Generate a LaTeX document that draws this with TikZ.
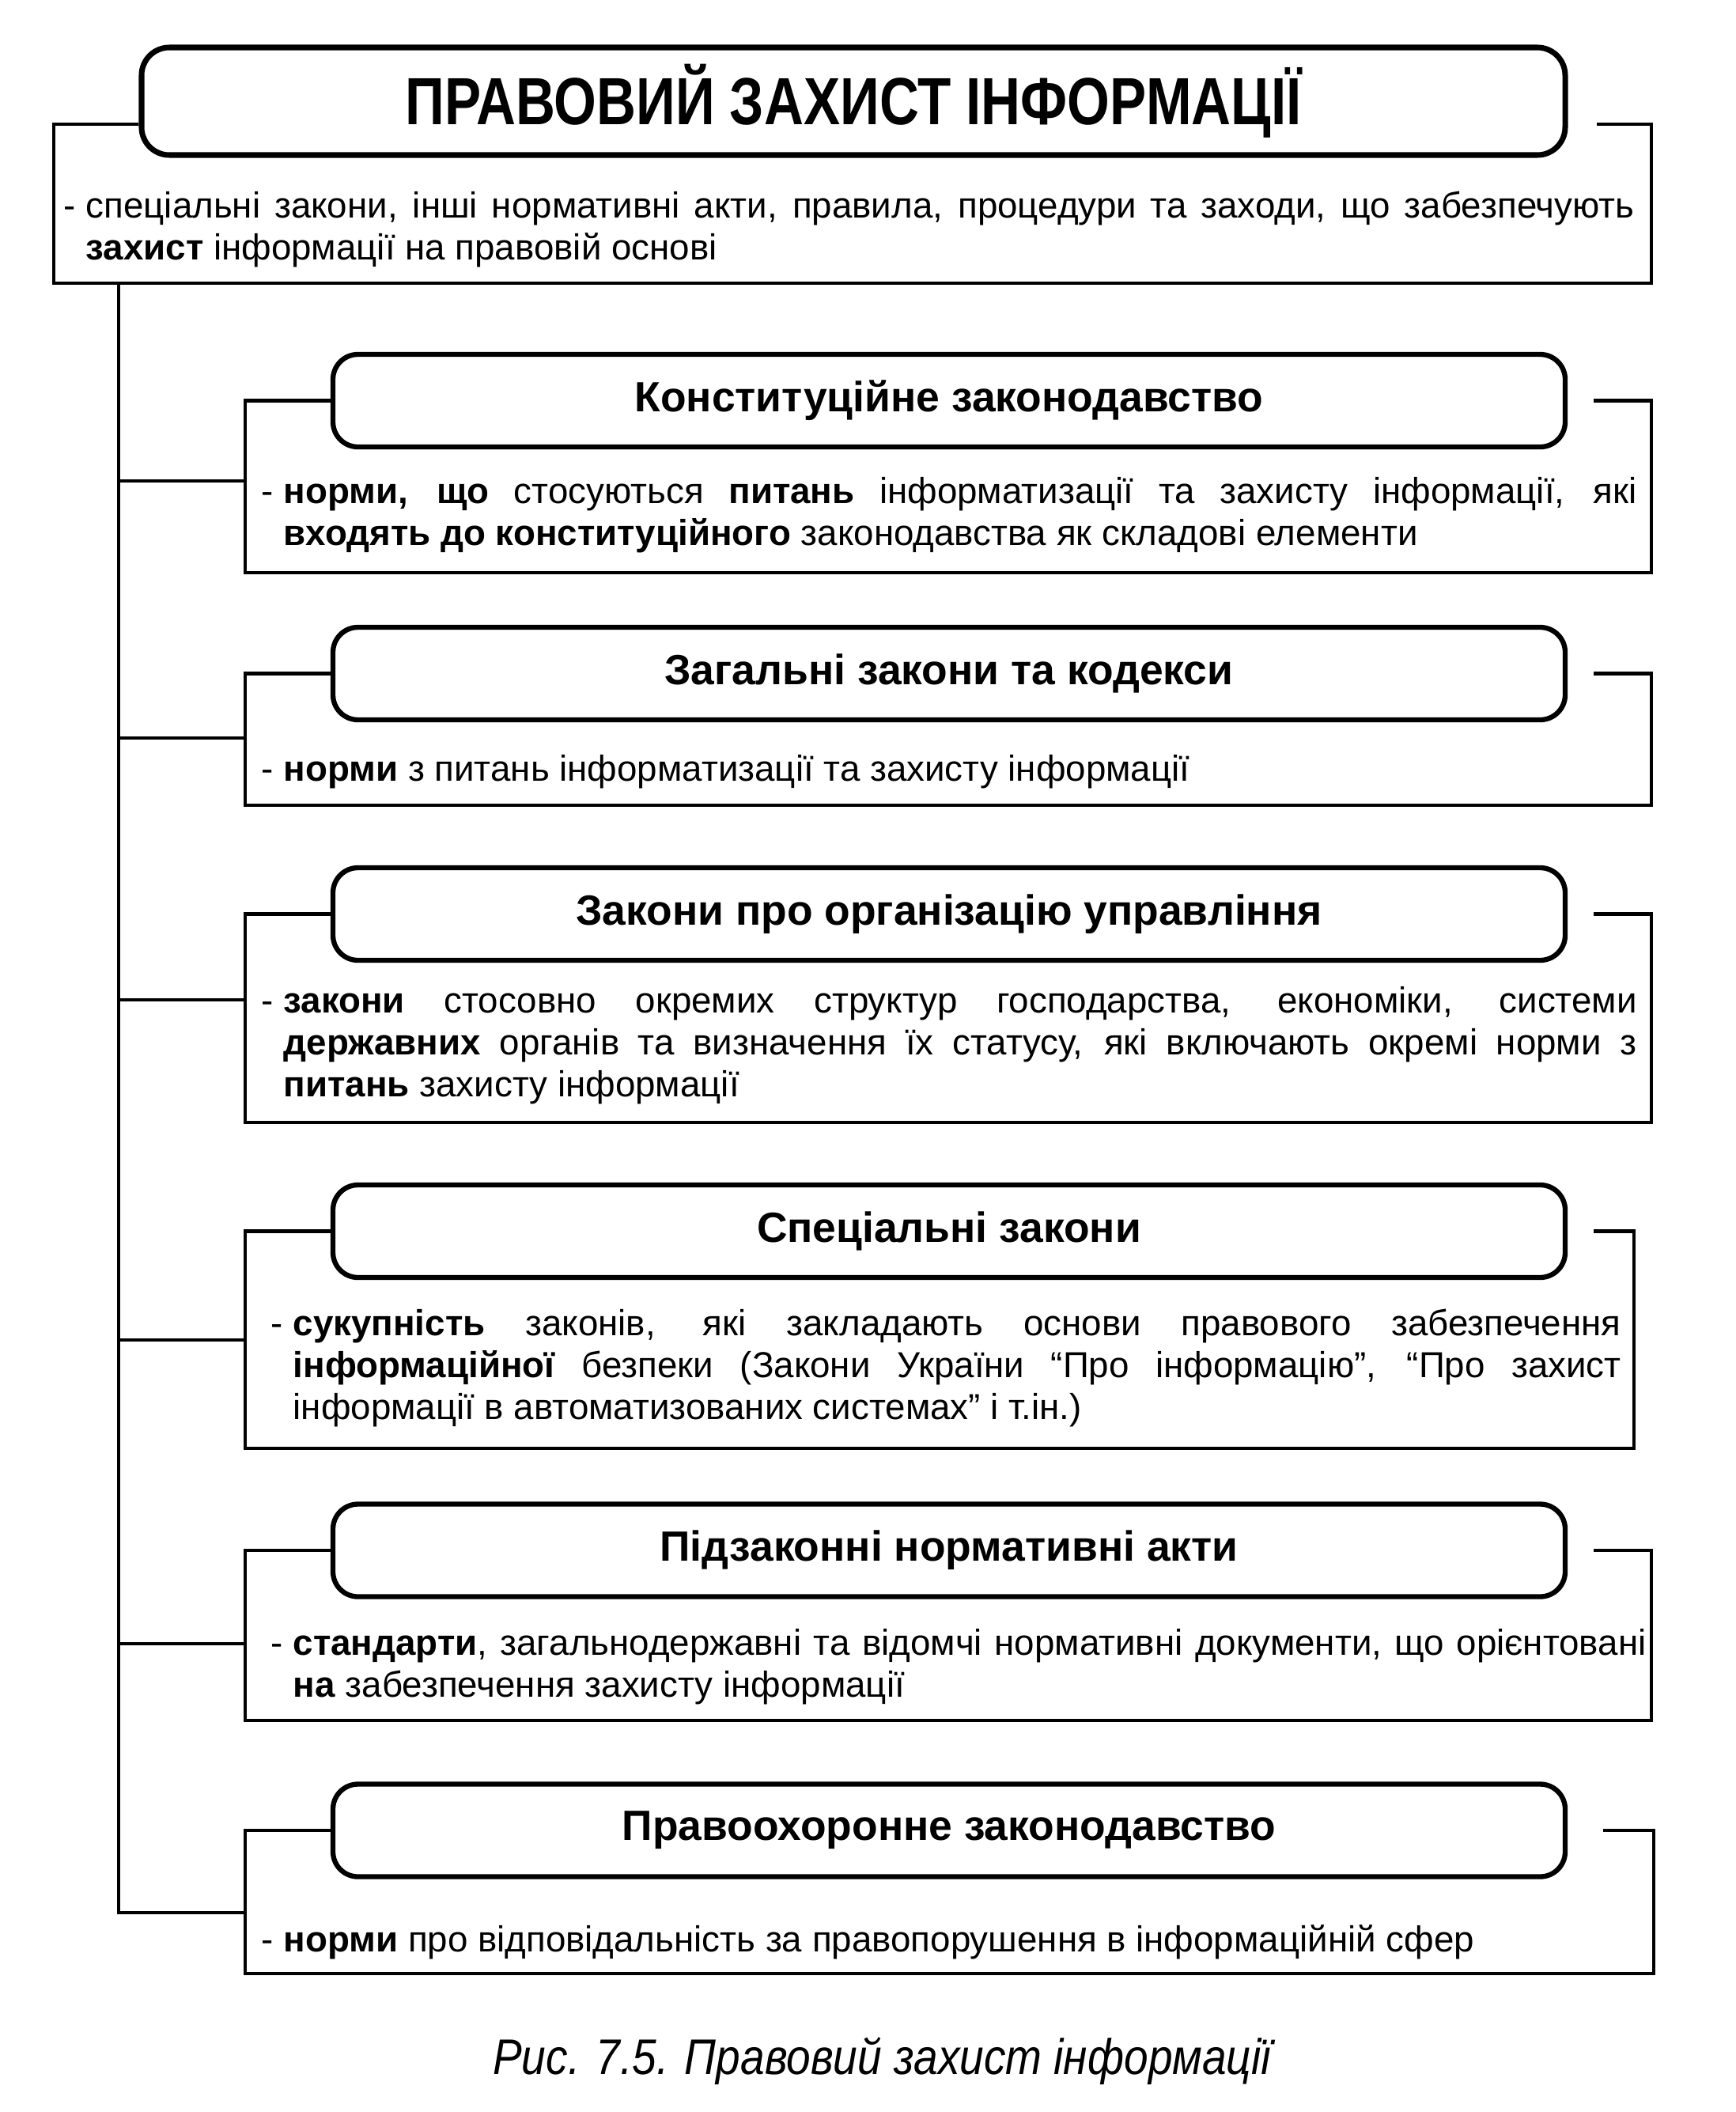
\documentclass[tikz,border=0pt]{standalone}
\usepackage{fontspec}
\setmainfont{Liberation Sans}
\newfontfamily\titlefont{Liberation Sans}[FakeStretch=0.82]
\newfontfamily\capfont{Liberation Sans}[FakeStretch=0.87]

\tikzset{
  titlebox/.style={draw, line width=2pt, rounded corners=10pt, minimum width=18cm, minimum height=1.36cm,
    font=\titlefont\fontsize{24}{28}\selectfont\bfseries},
  headbox/.style={draw, line width=1.8pt, rounded corners=9pt, minimum width=15.58cm, minimum height=1.17cm,
    font=\fontsize{15.2}{18}\selectfont\bfseries},
  desc/.style={anchor=base west, inner sep=0pt, text width=17.11cm, align=justify,
    font=\fontsize{13}{15.2}\selectfont},
  frame/.style={line width=1.4pt},
  trunk/.style={line width=1.2pt},
}

\begin{document}
\begin{tikzpicture}
  \useasboundingbox (0,0) rectangle (21.95,-26.70);

  % Заголовок
  \node[titlebox] (title) at (10.79,-1.28) {ПРАВОВИЙ ЗАХИСТ ІНФОРМАЦІЇ};
  \coordinate (m0) at (0.68,-1.57);
  \coordinate (mb) at (20.88,-3.58);
  \coordinate (mr) at (20.19,-1.57);
  \draw[frame] (title.west |- m0) -- (m0) |- (mb) |- (mr);
  \node[desc, text width=19.58cm] (t0) at (1.08,-2.75)
    {\llap{- }спеціальні закони, інші нормативні акти, правила, процедури та заходи, що забезпечують\linebreak
     \textbf{захист} інформації на правовій основі};
  \coordinate (top) at (1.50,-3.58);

  % Конституційне законодавство
  \node[headbox] (h1) at (12.00,-5.065) {Конституційне законодавство};
  \coordinate (l1) at (3.10,-6.08);
  \coordinate (b1) at (20.88,-7.24);
  \coordinate (r1) at (20.15,-5.065);
  \draw[frame] (h1.west) -| (l1) |- (b1) |- (r1);
  \draw[trunk] (l1 -| top) -- (l1);
  \node[desc] (t1) at (3.58,-6.36)
    {\llap{- }\textbf{норми, що} стосуються \textbf{питань} інформатизації та захисту інформації, які\linebreak
     \textbf{входять до конституційного} законодавства як складові елементи};

  % Загальні закони та кодекси
  \node[headbox] (h2) at (12.00,-8.515) {Загальні закони та кодекси};
  \coordinate (l2) at (3.10,-9.33);
  \coordinate (b2) at (20.88,-10.18);
  \coordinate (r2) at (20.15,-8.515);
  \draw[frame] (h2.west) -| (l2) |- (b2) |- (r2);
  \draw[trunk] (l2 -| top) -- (l2);
  \node[desc] (t2) at (3.58,-9.87)
    {\llap{- }\textbf{норми} з питань інформатизації та захисту інформації};

  % Закони про організацію управління
  \node[headbox] (h3) at (12.00,-11.555) {Закони про організацію управління};
  \coordinate (l3) at (3.10,-12.64);
  \coordinate (b3) at (20.88,-14.19);
  \coordinate (r3) at (20.15,-11.555);
  \draw[frame] (h3.west) -| (l3) |- (b3) |- (r3);
  \draw[trunk] (l3 -| top) -- (l3);
  \node[desc] (t3) at (3.58,-12.80)
    {\llap{- }\textbf{закони} стосовно окремих структур господарства, економіки, системи\linebreak
     \textbf{державних} органів та визначення їх статусу, які включають окремі норми з\linebreak
     \textbf{питань} захисту інформації};

  % Спеціальні закони
  \node[headbox] (h4) at (12.00,-15.565) {Спеціальні закони};
  \coordinate (l4) at (3.10,-16.94);
  \coordinate (b4) at (20.66,-18.31);
  \coordinate (r4) at (20.15,-15.565);
  \draw[frame] (h4.west) -| (l4) |- (b4) |- (r4);
  \draw[trunk] (l4 -| top) -- (l4);
  \node[desc, text width=16.79cm] (t4) at (3.70,-16.88)
    {\llap{- }\textbf{сукупність} законів, які закладають основи правового забезпечення\linebreak
     \textbf{інформаційної} безпеки (Закони України “Про інформацію”, “Про захист\linebreak
     інформації в автоматизованих системах” і т.ін.)};

  % Підзаконні нормативні акти
  \node[headbox] (h5) at (12.00,-19.60) {Підзаконні нормативні акти};
  \coordinate (l5) at (3.10,-20.78);
  \coordinate (b5) at (20.88,-21.75);
  \coordinate (r5) at (20.15,-19.60);
  \draw[frame] (h5.west) -| (l5) |- (b5) |- (r5);
  \draw[trunk] (l5 -| top) -- (l5);
  \node[desc] (t5) at (3.70,-20.92)
    {\llap{- }\textbf{стандарти}, загальнодержавні та відомчі нормативні документи, що орієнтовані\linebreak
     \textbf{на} забезпечення захисту інформації};

  % Правоохоронне законодавство
  \node[headbox] (h6) at (12.00,-23.14) {Правоохоронне законодавство};
  \coordinate (l6) at (3.10,-24.18);
  \coordinate (b6) at (20.91,-24.95);
  \coordinate (r6) at (20.27,-23.14);
  \draw[frame] (h6.west) -| (l6) |- (b6) |- (r6);
  \draw[trunk] (top) -- (l6 -| top) -- (l6);
  \node[desc] (t6) at (3.58,-24.67)
    {\llap{- }\textbf{норми} про відповідальність за правопорушення в інформаційній сфер};

  % Підпис
  \node[font=\capfont\fontsize{18}{21}\selectfont\itshape] (cap) at (11.15,-26.06)
    {Рис. 7.5. Правовий захист інформації};
\end{tikzpicture}
\end{document}
